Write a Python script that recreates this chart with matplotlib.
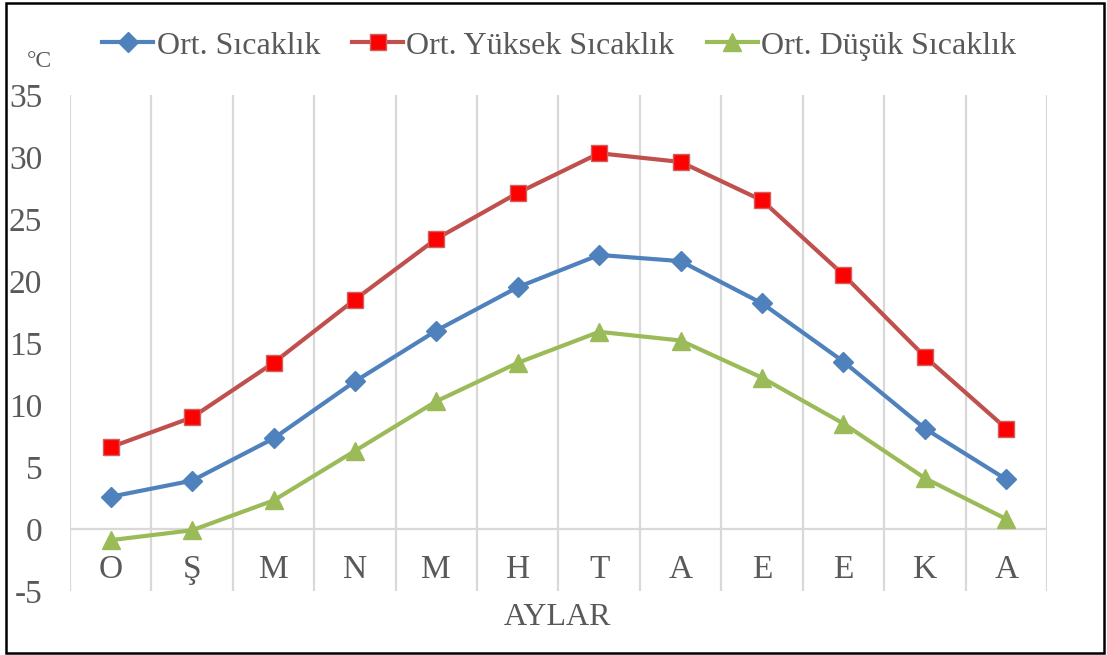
import matplotlib.pyplot as plt
from matplotlib.patches import Rectangle

plt.rcParams['font.family'] = ['Liberation Serif', 'DejaVu Serif']

months = ['O', 'Ş', 'M', 'N', 'M', 'H', 'T', 'A', 'E', 'E', 'K', 'A']
avg_temp = [2.6, 3.9, 7.3, 11.9, 16.0, 19.5, 22.1, 21.6, 18.2, 13.5, 8.1, 4.0]
high_temp = [6.6, 9.0, 13.4, 18.5, 23.4, 27.1, 30.3, 29.6, 26.5, 20.5, 13.9, 8.1]
low_temp = [-0.9, -0.1, 2.3, 6.3, 10.3, 13.4, 15.9, 15.2, 12.2, 8.5, 4.1, 0.8]
yticks = [-5, 0, 5, 10, 15, 20, 25, 30, 35]

text_color = '#595959'
grid_color = '#D9D9D9'

fig = plt.figure(figsize=(11.07, 6.55), dpi=100)
ax = fig.add_axes([0.0632, 0.0977, 0.8826, 0.7573])

x = list(range(len(months)))

# vertical grid between categories, plus the zero line
for b in range(len(months) + 1):
    ax.axvline(b - 0.5, color=grid_color, lw=1.6, zorder=1)
ax.axhline(0, color=grid_color, lw=1.6, zorder=1)

ax.plot(x, avg_temp, color='#4F81BD', lw=3, marker='D', ms=10.5,
        mfc='#4F81BD', mec='#4F81BD', label='Ort. Sıcaklık', zorder=3)
ax.plot(x, high_temp, color='#C0504D', lw=3, marker='s', ms=11.5,
        mfc='#FF0000', mec='#D0605D', mew=1, label='Ort. Yüksek Sıcaklık', zorder=3)
ax.plot(x, low_temp, color='#9BBB59', lw=3, marker='^', ms=13.5,
        mfc='#9BBB59', mec='#9BBB59', label='Ort. Düşük Sıcaklık', zorder=3)

ax.set_xlim(-0.5, len(months) - 0.5)
ax.set_ylim(-5, 35)
ax.set_yticks(yticks)
ax.set_yticklabels([str(v) for v in yticks], fontsize=24, color=text_color)
ax.tick_params(axis='y', length=0, pad=20)
ax.set_xticks([])
for s in ax.spines.values():
    s.set_visible(False)

for i, m in enumerate(months):
    ax.text(i, -3.25, m, ha='center', va='center', fontsize=24, color=text_color)

fig.text(0.504, 0.058, 'AYLAR', ha='center', va='center', fontsize=23, color=text_color)
fig.text(0.036, 0.906, '°C', ha='center', va='center', fontsize=17, color=text_color)

fig.legend(loc='center', bbox_to_anchor=(0.505, 0.930), ncol=3, frameon=False,
           fontsize=23, handlelength=1.6, handletextpad=0.1, columnspacing=1.0,
           labelcolor=text_color)

fig.patches.append(Rectangle((6 / 1107, 2 / 655), 1098 / 1107, 650 / 655,
                             transform=fig.transFigure, fill=False,
                             edgecolor='black', lw=1.8))

fig.savefig('out.png', dpi=100)
